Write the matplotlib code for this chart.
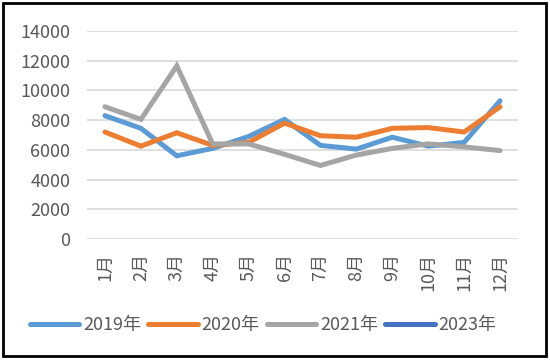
import numpy as np
import matplotlib
matplotlib.use("Agg")
import matplotlib.pyplot as plt
from matplotlib.patches import Rectangle

plt.rcParams['font.family'] = ['Noto Sans CJK SC', 'DejaVu Sans']
plt.rcParams['font.weight'] = 'light'

# 数据
months = ["1月", "2月", "3月", "4月", "5月", "6月", "7月", "8月", "9月", "10月", "11月", "12月"]
y2019 = [8300, 7450, 5600, 6100, 6900, 8050, 6300, 6050, 6850, 6250, 6500, 9300]
y2020 = [7200, 6250, 7150, 6300, 6500, 7800, 6950, 6850, 7450, 7500, 7200, 8900]
y2021 = [8900, 8050, 11650, 6400, 6400, 5700, 4950, 5650, 6100, 6400, 6200, 5950]
y2023 = []
series = [("2019年", y2019, "#5B9BD5"), ("2020年", y2020, "#ED7D31"),
          ("2021年", y2021, "#A5A5A5"), ("2023年", y2023, "#4472C4")]

fig = plt.figure(figsize=(5.5, 3.61), dpi=100)
ax = fig.add_axes([87 / 550, 1 - 239 / 361, 431 / 550, 208 / 361])

x = np.arange(len(months))
for nome, vals, cor in series:
    ax.plot(x[:len(vals)], vals, color=cor, linewidth=3.6, label=nome,
            solid_capstyle='round', solid_joinstyle='miter')

ax.set_xlim(-0.5, len(months) - 0.5)
ax.set_ylim(0, 14000)
ax.set_yticks(np.arange(0, 14001, 2000))
ax.set_xticks(x)
ax.set_xticklabels(months, rotation=90, va='top', ha='center')
ax.tick_params(axis='both', length=0, labelsize=13, labelcolor='#595959')
ax.tick_params(axis='y', pad=12)
ax.tick_params(axis='x', pad=10)
ax.grid(axis='y', color='#D9D9D9', linewidth=1.2)
ax.set_axisbelow(True)
for s in ax.spines.values():
    s.set_visible(False)

leg = fig.legend(loc='center', bbox_to_anchor=(263 / 550, 1 - 325 / 361), ncol=4,
                 frameon=False, fontsize=13, handlelength=2.75,
                 handletextpad=0.2, columnspacing=0.4, labelcolor='#595959')

fig.patches.append(Rectangle((2.5 / 550, 1 - 356 / 361), 543 / 550, 353 / 361,
                             transform=fig.transFigure, fill=False,
                             edgecolor='black', linewidth=2))

fig.savefig("out.png", dpi=100)
